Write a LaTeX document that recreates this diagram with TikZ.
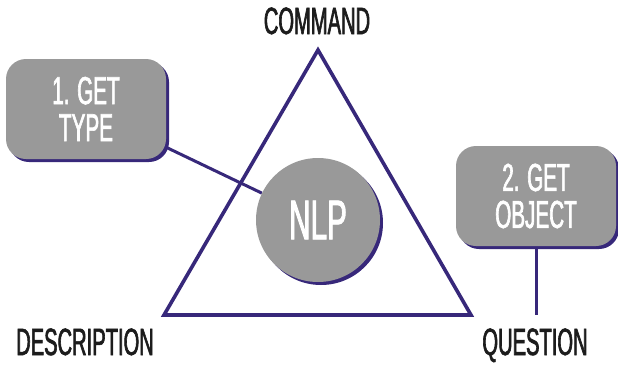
\documentclass[tikz,border=0pt]{standalone}
\usepackage{fontspec}
\setmainfont{Liberation Sans}[FakeStretch=0.53, BoldFont=Liberation Sans,
  BoldFeatures={FakeBold=1.6}]
\usetikzlibrary{shadows,backgrounds}
\definecolor{purp}{RGB}{55,40,122}
\definecolor{fillgray}{RGB}{153,153,153}
\definecolor{ink}{RGB}{28,28,28}
\begin{document}
\begin{tikzpicture}[x=1pt,y=-1pt,
  purpshadow/.style={general shadow={fill=purp, shadow xshift=3pt, shadow yshift=-3pt}},
  stepbox/.style={rectangle, rounded corners=20pt, fill=fillgray, text=white,
    minimum width=160pt, minimum height=100pt, inner sep=0pt, align=center,
    font=\fontsize{39}{37}\selectfont\bfseries, purpshadow},
  hub/.style={circle, fill=fillgray, text=white, minimum size=124pt, inner sep=0pt,
    font=\fontsize{56}{56}\selectfont\bfseries, purpshadow},
  corner/.style={text=ink, inner sep=0pt, anchor=base,
    font=\fontsize{38}{38}\selectfont\bfseries},
  link/.style={draw=purp, line width=3pt},
  tri/.style={draw=purp, line width=3.6pt, line join=miter}]
\useasboundingbox (0,0) rectangle (618,367);

% triangle corners
\coordinate (A) at (318,50);
\coordinate (B) at (164,315);
\coordinate (C) at (471,315);

% corner labels
\node[corner] (command) at (317,34) {COMMAND};
\node[corner] (description) at (85,355) {DESCRIPTION};
\node[corner] (question) at (535,355) {QUESTION};

% central circle and the two step boxes
\node[hub] (nlp) at (318,220) {NLP};
\node[stepbox] (box1) at (86,109) {1. GET\\TYPE};
\node[stepbox] (box2) at (536,196) {2. GET\\OBJECT};
\coordinate (qend) at (box2.south |- B);

\begin{scope}[on background layer]
  \draw[tri] (A) -- (B) -- (C) -- cycle;
  \draw[link] (box1) -- (nlp);
  \draw[link] (box2.south) -- (qend);
\end{scope}
\end{tikzpicture}
\end{document}
